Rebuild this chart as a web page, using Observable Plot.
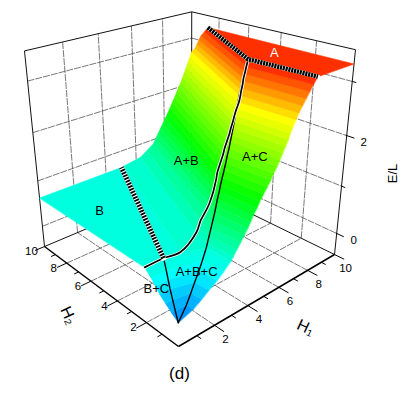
<!DOCTYPE html>
<html>
<head>
<meta charset="utf-8">
<style>html,body{margin:0;padding:0;background:#fff}svg{display:block}</style>
<script src="https://cdn.jsdelivr.net/npm/d3@7"></script>
<script src="https://cdn.jsdelivr.net/npm/@observablehq/plot@0.6"></script>
</head>
<body>
<script>
// --- values ---
const boxE = [-0.467, 3.556];
const h1Ticks = [1,2,3,4,5,6,7,8,9,10];
const h2Ticks = [1,2,3,4,5,6,7,8,9,10];
const eTicks = [0,1,2,3];
const eLabels = [0,2];
const gridH = [2,4,6,8];

// iso-energy rows of the low part (E up to the B plateau)
const lowE  = [0,.1,.2,.3,.4,.5,.6,.63];
const lowH1 = [0,.8,1.25,1.65,2.1,2.45,2.75,2.85];
const lowH2 = [0,.4,.75,1.1,1.35,1.6,1.9,2];
// iso-energy rows of the upper part
const highE  = [.63,.64,.7,.8,.9,1,1.1,1.2,1.3,1.4,1.5,1.6,1.7,1.8,1.9,2,2.1,2.2,2.3,2.4,2.5,2.6,2.7,2.8,2.9,3,3.1,3.2,3.31];
const highH1 = [2.85,2.88,3,3.2,3.4,3.6,3.8,3.95,4.1,4.3,4.45,4.65,4.85,5.05,5.2,5.4,5.55,5.7,5.85,6,6.1,6.25,6.4,6.55,6.75,6.95,7.15,7.35,7.6];
// where each row crosses the A+B / A+B+C crease
const creaseH1 = [1,1.8,3.2,3.75,4.15,4.42,4.6,4.74,4.85,4.95,5.03,5.17,5.35,5.51,5.63,5.8,5.97,6.09,6.25,6.37,6.54,6.72,6.83,6.89,7,7.05,7.17,7.28,7.4];
const creaseH2 = [2,1.85,2.38,2.69,2.8,2.86,2.9,2.93,2.96,2.98,3.01,3.04,3.09,3.13,3.16,3.2,3.24,3.27,3.31,3.34,3.39,3.43,3.46,3.47,3.5,3.51,3.54,3.57,3.6];
// where each row meets the H2=10 edge, then the H1=10 edge
const edgeH1 = [5,5.2,6.3,6.75,7.19,7.37,7.55,7.73,7.91,8.09,8.27,8.43,8.59,8.75,8.9,9.06,9.22,9.35,9.48,9.61,9.74,9.87,10,10,10,10,10,10,10];
const edgeH2 = [10,10,10,10,10,10,10,10,10,10,10,10,10,10,10,10,10,10,10,10,10,10,10,9.75,9.6,9.45,9.3,9.05,8.8];

const plateauB = 0.63, plateauA = 3.31;
const quad = [1,2], triple = [7.4,3.6], edgeA = [7.6,0], cornerA = [10,8.8], edgeB = [5,10];
const colorE = [0,.5,1.55,2.7,3.31];
const colorRGB = ["#0080ff","#00ffff","#00ff00","#ffff00","#ff3000"];
const phaseLabels = [
  {t:"A",  h1:8.87,h2:3.38,e:3.31,fill:"#fff"},
  {t:"A+C",h1:5.4,h2:1.2,e:2.0,fill:"#000"},
  {t:"A+B",h1:6.3,h2:6.4,e:1.1,fill:"#000"},
  {t:"B",  h1:1.4,h2:7,e:.63,fill:"#000"},
  {t:"A+B+C",h1:2.2,h2:1.3,e:.28,fill:"#000"},
  {t:"B+C",h1:0,h2:1.3,e:.36,fill:"#000"}
];

// --- perspective of the 3D box ---
const cam = {x:[178,223.2,-122.7,-28.79], y:[346,-40.9,-36.8,-253.5], w:[1,.2011,.2568,-.1521]};
function project(h1,h2,e){
  const u=h1/10,v=h2/10,t=(e-boxE[0])/(boxE[1]-boxE[0]);
  const f=c=>c[0]+c[1]*u+c[2]*v+c[3]*t, w=f(cam.w);
  return {x:f(cam.x)/w,y:f(cam.y)/w};
}

// iso rows -> polylines in (H1,H2,E)
const lowRows = lowE.map((e,i)=>[[lowH1[i],0,e],[lowH1[i]*triple[0]/edgeA[0],lowH1[i]*triple[1]/edgeA[0],e],[lowH2[i]/2,lowH2[i],e],[0,lowH2[i],e]]);
const highRows = highE.map((e,i)=>{
  const h=highH1[i];
  return [[h,0,e],[h*triple[0]/edgeA[0],h*triple[1]/edgeA[0],e],
          [creaseH1[i],creaseH2[i],e],[edgeH1[i],edgeH2[i],e]];
});
const polys=[];
let polyId=0;
function addBand(r0,r1,E){
  [...r0,...r1.slice().reverse()].forEach(p=>{const q=project(...p);polys.push({id:polyId,E,x:q.x,y:q.y});});
  polyId++;
}
function addFlat(list,E){
  list.forEach(p=>{const q=project(p[0],p[1],E);polys.push({id:polyId,E,x:q.x,y:q.y});});
  polyId++;
}
addFlat([[0,quad[1]],quad,edgeB,[0,10]],plateauB);
for(let i=0;i<lowRows.length-1;i++) addBand(lowRows[i],lowRows[i+1],lowE[i+1]);
for(let i=0;i<highRows.length-1;i++) addBand(highRows[i],highRows[i+1],highE[i+1]);
addFlat([edgeA,triple,cornerA,[10,0]],plateauA);

// --- box segments ---
const [E0,E1]=boxE;
const seg=(a,b)=>{const p=project(...a),q=project(...b);return {x1:p.x,y1:p.y,x2:q.x,y2:q.y};};
const grid=[];
gridH.forEach(h=>{
  grid.push(seg([h,0,E0],[h,10,E0]),seg([0,h,E0],[10,h,E0]),seg([h,10,E0],[h,10,E1]),seg([10,h,E0],[10,h,E1]));
});
eTicks.forEach(e=>grid.push(seg([0,10,e],[10,10,e]),seg([10,10,e],[10,0,e])));
const frame=[
  seg([0,10,E0],[10,10,E0]),seg([10,10,E0],[10,0,E0]),
  seg([0,10,E0],[0,10,E1]),seg([10,0,E0],[10,0,E1]),seg([10,10,E0],[10,10,E1]),
  seg([0,10,E1],[10,10,E1]),seg([10,10,E1],[10,0,E1])
];
const front=[seg([0,0,E0],[10,0,E0]),seg([0,0,E0],[0,10,E0])];
const ticks=[
  ...h1Ticks.map(h=>seg([h,0,E0],[h,h%2?-.25:-.55,E0])),
  ...h2Ticks.map(h=>seg([0,h,E0],[h%2?-.25:-.55,h,E0])),
  ...eTicks.map(e=>seg([10,-(e%2?.2:.4),e],[10,e%2?0:.05,e]))
];

// --- phase boundaries ---
const line=(arr)=>arr.map(p=>project(...p));
const dashedA=line([[cornerA[0],cornerA[1],plateauA],[triple[0],triple[1],plateauA],[edgeA[0],edgeA[1],plateauA]]);
const dashedB=line([[quad[0],quad[1],plateauB],[edgeB[0],edgeB[1],plateauB]]);
const creaseL2=line([[0,quad[1],plateauB],...highRows.map(r=>r[2])]);
const creaseL1all=[...lowRows,...highRows].map(r=>project(...r[1]));
const creaseQ=lowRows.map(r=>project(...r[2]));

const lab=(h,o)=>Plot.text(h,{x:"x",y:"y",text:"t",fontFamily:"Liberation Sans",...o});
const h1Lab=gridH.concat([10]).map(h=>({...project(h,0,E0),t:String(h)}));
const h2Lab=gridH.concat([10]).map(h=>({...project(0,h,E0),t:String(h)}));
const eLab=eLabels.map(e=>({...project(10,0,e),t:String(e)}));
const phase=phaseLabels.map(l=>({...project(l.h1,l.h2,l.e),t:l.t,fill:l.fill}));

const chart=Plot.plot({
  width:415,height:394,margin:0,
  x:{domain:[0,415],range:[0,415],axis:null},
  y:{domain:[0,394],range:[0,394],axis:null},
  color:{type:"linear",domain:colorE,range:colorRGB,interpolate:"rgb"},
  style:{background:"#fff"},
  marks:[
    Plot.link(grid,{x1:"x1",y1:"y1",x2:"x2",y2:"y2",stroke:"#555",strokeWidth:.8,strokeDasharray:"7,1"}),
    Plot.link(frame,{x1:"x1",y1:"y1",x2:"x2",y2:"y2",stroke:"#111",strokeWidth:1}),
    Plot.line(polys,{x:"x",y:"y",z:"id",fill:"E",stroke:"E",strokeWidth:.5,curve:"linear-closed"}),
    Plot.link(front,{x1:"x1",y1:"y1",x2:"x2",y2:"y2",stroke:"#000",strokeWidth:1.5}),
    Plot.link(ticks,{x1:"x1",y1:"y1",x2:"x2",y2:"y2",stroke:"#000",strokeWidth:1}),
    Plot.line(creaseL1all,{x:"x",y:"y",stroke:"#000",strokeWidth:1.4}),
    Plot.line(creaseQ,{x:"x",y:"y",stroke:"#000",strokeWidth:1.4}),
    Plot.line(creaseL2,{x:"x",y:"y",stroke:"#fff",strokeWidth:3.4,curve:"catmull-rom"}),
    Plot.line(creaseL2,{x:"x",y:"y",stroke:"#000",strokeWidth:1.7,curve:"catmull-rom"}),
    Plot.line(dashedB,{x:"x",y:"y",stroke:"#fff",strokeWidth:5}),
    Plot.line(dashedB,{x:"x",y:"y",stroke:"#000",strokeWidth:5,strokeDasharray:"1.8,1.2",strokeLinecap:"butt"}),
    Plot.line(dashedA,{x:"x",y:"y",stroke:"#fff",strokeWidth:4.5}),
    Plot.line(dashedA,{x:"x",y:"y",stroke:"#000",strokeWidth:4.5,strokeDasharray:"2.2,.7",strokeLinecap:"butt",strokeLinejoin:"miter"}),
    lab(h1Lab,{fontSize:11.5,dx:11,dy:14,fill:"#000"}),
    lab(h2Lab,{fontSize:11.5,dx:-13,dy:5,fill:"#000"}),
    lab(eLab,{fontSize:11.5,dx:17,dy:7,fill:"#000"}),
    lab(phase,{fontSize:13,fill:"fill"}),
    lab([{x:179,y:373,t:"(d)"}],{fontSize:17,fill:"#000"}),
    lab([{x:392,y:173,t:"E/L"}],{rotate:-90,fontSize:13,fill:"#000"}),
    lab([{x:305,y:327,t:"H₁"}],{rotate:25,fontSize:16,fill:"#000"}),
    lab([{x:68,y:315,t:"H₂"}],{rotate:65,fontSize:16,fill:"#000"})
  ]
});
document.body.appendChild(chart);
</script>
</body>
</html>
